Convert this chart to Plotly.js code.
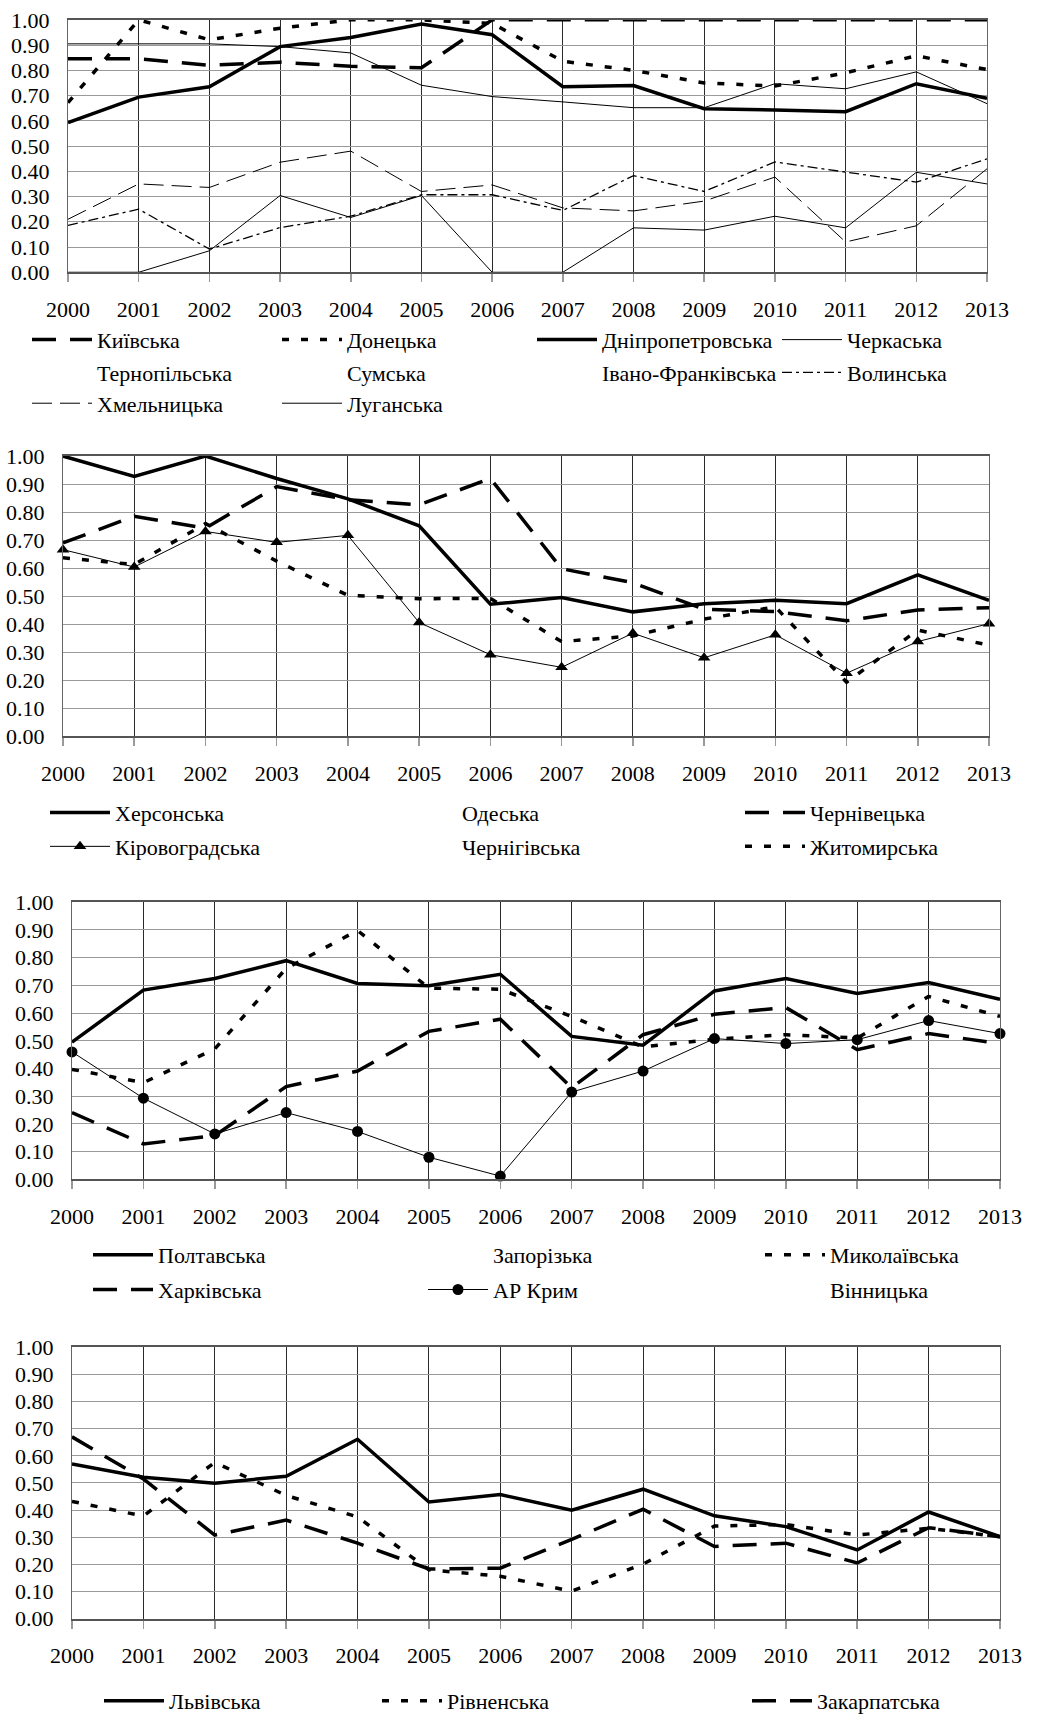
<!DOCTYPE html>
<html><head><meta charset="utf-8">
<script src="https://cdn.plot.ly/plotly-3.0.1.min.js"></script>
<style>html,body{margin:0;padding:0;background:#fff}#chart{width:1039px;height:1722px}</style>
</head><body><div id="chart"></div>
<script>
const years = [2000,2001,2002,2003,2004,2005,2006,2007,2008,2009,2010,2011,2012,2013];
const yTickVals = [0,0.1,0.2,0.3,0.4,0.5,0.6,0.7,0.8,0.9,1.0];

// Panel 1
const kyivska        = [0.846,0.846,0.820,0.832,0.816,0.810,1.000,1.000,1.000,1.000,1.000,1.000,1.000,1.000];
const donetska       = [0.672,1.000,0.921,0.967,1.000,1.000,0.986,0.836,0.800,0.750,0.738,0.790,0.858,0.803];
const dnipro         = [0.593,0.694,0.735,0.894,0.930,0.984,0.941,0.735,0.740,0.648,0.643,0.636,0.747,0.689];
const cherkaska      = [0.905,0.905,0.905,0.894,0.869,0.741,0.696,0.675,0.652,0.652,0.747,0.727,0.794,0.668];
const volynska       = [0.186,0.250,0.092,0.177,0.222,0.307,0.307,0.245,0.383,0.320,0.437,0.396,0.357,0.449];
const khmelnytska    = [0.210,0.350,0.336,0.436,0.480,0.320,0.346,0.255,0.243,0.282,0.377,0.120,0.184,0.410];
const luhanska       = [0.000,0.000,0.085,0.304,0.217,0.304,0.000,0.000,0.176,0.167,0.222,0.176,0.396,0.350];
// Panel 2
const khersonska     = [1.000,0.927,1.000,0.920,0.847,0.751,0.471,0.495,0.444,0.473,0.485,0.473,0.576,0.485];
const chernivetska   = [0.690,0.785,0.743,0.891,0.844,0.826,0.920,0.598,0.548,0.453,0.445,0.412,0.451,0.459];
const kirovohradska  = [0.666,0.604,0.731,0.692,0.717,0.406,0.291,0.246,0.368,0.280,0.362,0.225,0.338,0.402];
const zhytomyrska    = [0.637,0.613,0.759,0.625,0.503,0.491,0.492,0.338,0.358,0.418,0.462,0.193,0.379,0.325];
// Panel 3
const poltavska      = [0.495,0.683,0.725,0.789,0.707,0.699,0.740,0.516,0.484,0.680,0.725,0.671,0.710,0.650];
const mykolaivska    = [0.397,0.349,0.471,0.761,0.898,0.690,0.686,0.588,0.478,0.506,0.522,0.510,0.660,0.588];
const kharkivska     = [0.241,0.128,0.158,0.335,0.391,0.534,0.578,0.331,0.522,0.596,0.620,0.468,0.526,0.490];
const arKrym         = [0.460,0.293,0.164,0.241,0.173,0.080,0.012,0.315,0.391,0.508,0.490,0.504,0.573,0.526];
// Panel 4
const lvivska        = [0.570,0.521,0.499,0.525,0.661,0.430,0.457,0.400,0.477,0.379,0.339,0.253,0.393,0.302];
const rivnenska      = [0.432,0.378,0.576,0.454,0.375,0.180,0.156,0.101,0.201,0.341,0.347,0.308,0.333,0.302];
const zakarpatska    = [0.670,0.515,0.308,0.363,0.278,0.183,0.186,0.292,0.403,0.266,0.278,0.205,0.335,0.302];
// Series listed in the legend whose lines are not visible in the picture (values unknown)
const noData = [null,null,null,null,null,null,null,null,null,null,null,null,null,null];

const W = 1039, H = 1722;
const FONT = '"Liberation Serif", "Times New Roman", Times, serif';
const FS = 22;

const ST = {
  thickSolid: {line:{color:'#000', width:3.5, dash:'solid'}},
  thinSolid:  {line:{color:'#000', width:1, dash:'solid'}},
  thickDash:  {line:{color:'#000', width:3.5, dash:'24px,14px'}},
  thickDot:   {line:{color:'#000', width:3.5, dash:'7px,12px'}},
  thinDash:   {line:{color:'#000', width:1, dash:'20px,8px'}},
  dashDot:    {line:{color:'#000', width:1.3, dash:'10px,4px,3px,4px'}},
  hidden:     {line:{color:'rgba(0,0,0,0)', width:1}},
  triangles:  {line:{color:'#000', width:1}, mode:'lines+markers', marker:{symbol:'triangle-up', size:11, color:'#000'}},
  circles:    {line:{color:'#000', width:1}, mode:'lines+markers', marker:{symbol:'circle', size:11, color:'#000'}}
};

// [name, values, style, panel, legend text x (px), legend row y (px)]
const series = [
  ['Київська', kyivska, 'thickDash', 1, 97, 342],
  ['Донецька', donetska, 'thickDot', 1, 347, 342],
  ['Дніпропетровська', dnipro, 'thickSolid', 1, 602, 342],
  ['Черкаська', cherkaska, 'thinSolid', 1, 847, 342],
  ['Тернопільська', noData, 'hidden', 1, 97, 375],
  ['Сумська', noData, 'hidden', 1, 347, 375],
  ['Івано-Франківська', noData, 'hidden', 1, 602, 375],
  ['Волинська', volynska, 'dashDot', 1, 847, 375],
  ['Хмельницька', khmelnytska, 'thinDash', 1, 97, 406],
  ['Луганська', luhanska, 'thinSolid', 1, 347, 406],

  ['Херсонська', khersonska, 'thickSolid', 2, 115, 818],
  ['Одеська', noData, 'hidden', 2, 462, 818],
  ['Чернівецька', chernivetska, 'thickDash', 2, 810, 818],
  ['Кіровоградська', kirovohradska, 'triangles', 2, 115, 852],
  ['Чернігівська', noData, 'hidden', 2, 462, 852],
  ['Житомирська', zhytomyrska, 'thickDot', 2, 810, 852],

  ['Полтавська', poltavska, 'thickSolid', 3, 158, 1263],
  ['Запорізька', noData, 'hidden', 3, 493, 1263],
  ['Миколаївська', mykolaivska, 'thickDot', 3, 830, 1263],
  ['Харківська', kharkivska, 'thickDash', 3, 158, 1298],
  ['АР Крим', arKrym, 'circles', 3, 493, 1298],
  ['Вінницька', noData, 'hidden', 3, 830, 1298],

  ['Львівська', lvivska, 'thickSolid', 4, 169, 1712],
  ['Рівненська', rivnenska, 'thickDot', 4, 447, 1712],
  ['Закарпатська', zakarpatska, 'thickDash', 4, 817, 1712]
];

// panel frames in pixels: [left, right, top, bottom]
const frames = {
  1: [68, 987, 20, 274],
  2: [63, 989, 459, 741],
  3: [72, 1000, 908, 1187],
  4: [72, 1000, 1356, 1629]
};

const ITEMW = 60, TEXTGAP = ITEMW + 10;
const traces = [];
const layout = {
  width: W, height: H,
  margin: {l:0, r:0, t:0, b:0},
  paper_bgcolor: '#fff', plot_bgcolor: '#fff',
  font: {family: FONT, size: FS, color: '#000'},
  showlegend: true
};

series.forEach((s, i) => {
  const [name, vals, st, panel, tx, ty] = s;
  const sfx = panel === 1 ? '' : String(panel);
  const lg = i === 0 ? 'legend' : 'legend' + (i + 1);
  const style = ST[st];
  const t = {
    type: 'scatter', name: name,
    x: years, y: vals,
    mode: style.mode || 'lines',
    line: style.line,
    xaxis: 'x' + sfx, yaxis: 'y' + sfx,
    legend: lg, showlegend: true, cliponaxis: false, hoverinfo: 'skip'
  };
  if (style.marker) t.marker = style.marker;
  traces.push(t);
  layout[lg] = {
    x: (tx - TEXTGAP) / W, y: 1 - ty / H,
    xanchor: 'left', yanchor: 'middle',
    bgcolor: 'rgba(0,0,0,0)', borderwidth: 0,
    itemwidth: ITEMW, itemclick: false, itemdoubleclick: false,
    font: {family: FONT, size: FS, color: '#000'},
    orientation: 'v', tracegroupgap: 0
  };
});

[1,2,3,4].forEach(p => {
  const [l, r, t, b] = frames[p];
  const sfx = p === 1 ? '' : String(p);
  layout['xaxis' + sfx] = {
    domain: [l / W, r / W], anchor: 'y' + sfx,
    range: [2000, 2013], tickvals: years, ticktext: years.map(String),
    showgrid: true, gridcolor: '#2a2a2a', gridwidth: 1,
    ticks: 'outside', ticklen: 8, tickcolor: '#999', tickwidth: 1.5,
    showline: true, linecolor: '#555', linewidth: 2, mirror: true,
    zeroline: false, ticklabelstandoff: 8, fixedrange: true,
    tickfont: {family: FONT, size: FS, color: '#000'}
  };
  layout['yaxis' + sfx] = {
    domain: [1 - b / H, 1 - t / H], anchor: 'x' + sfx,
    range: [0, 1], tickvals: yTickVals, tickformat: '.2f',
    showgrid: true, gridcolor: '#9a9a9a', gridwidth: 1,
    showline: true, linecolor: '#666', linewidth: 1.2, mirror: true,
    ticks: '', ticklabelstandoff: 13, zeroline: false, fixedrange: true,
    tickfont: {family: FONT, size: FS, color: '#000'}
  };
});

Plotly.newPlot('chart', traces, layout, {staticPlot: true, displayModeBar: false});
</script>
</body></html>
